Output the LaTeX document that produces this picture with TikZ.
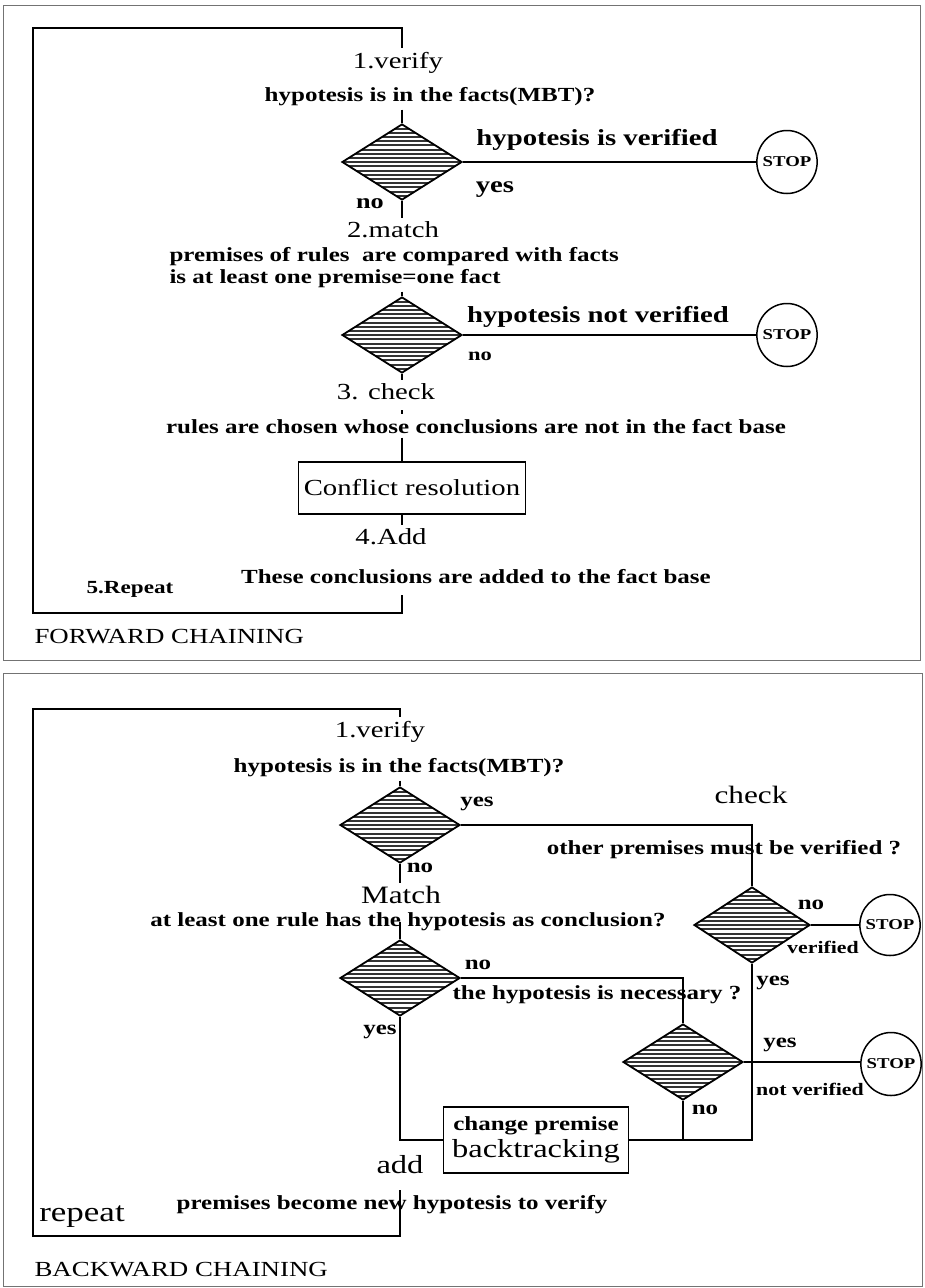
\documentclass[tikz,border=0pt]{standalone}
\usepackage{fontspec}
\setmainfont[FakeStretch=1.25]{Liberation Serif}
\usetikzlibrary{shapes.geometric}

\begin{document}
\begin{tikzpicture}[
        x=1pt, y=-1pt,
        frame/.style={draw=black!55, line width=1pt},
        flow/.style={line width=1.7pt},
        loopline/.style={line width=2.3pt},
        test/.style={draw, diamond, line width=1.8pt, minimum width=120pt, minimum height=76pt, inner sep=0pt,
            path picture={
                \foreach \k in {1,...,19}
                    \draw[black!80, line width=2pt]
                        ([yshift=-\k*4.2pt]path picture bounding box.north west) --
                        ([yshift=-\k*4.2pt]path picture bounding box.north east);
            }},
        halt/.style={draw, ellipse, line width=1.5pt, minimum width=59pt, minimum height=63pt, inner sep=-3pt,
            font=\fontsize{15}{16}\selectfont\bfseries},
        proc/.style={draw, rectangle, line width=1.7pt, align=center, inner sep=0pt},
        stage/.style={font=\fontsize{23}{25}\selectfont},
        bigstage/.style={font=\fontsize{25}{28}\selectfont},
        ask/.style={font=\fontsize{20}{22}\selectfont\bfseries},
        answer/.style={font=\fontsize{20}{22}\selectfont\bfseries, inner sep=1pt},
        result/.style={font=\fontsize{17.5}{19}\selectfont\bfseries, inner sep=1pt},
        title/.style={anchor=west, font=\fontsize{21.5}{24}\selectfont}
    ]
    \useasboundingbox (0,0) rectangle (924,1288);
    \draw[frame] (3,5) rectangle (920,660);
    \draw[frame] (3,673) rectangle (922,1286);

    % Forward chaining
    \node[stage] (fverify) at (398,63) {1.verify};
    \node[ask] (fq1) at (430,97) {hypotesis is in the facts(MBT)?};
    \node[test] (fd1) at (402,162) {};
    \node[halt] (fstop1) at (787,162) {STOP};
    \node[font=\fontsize{23}{25}\selectfont\bfseries] (fverified) at (597,140) {hypotesis is verified};
    \node[font=\fontsize{23}{25}\selectfont\bfseries] (fyes) at (495,190) {yes};
    \node[answer, font=\fontsize{21}{23}\selectfont\bfseries] (fno1) at (370,204) {no};
    \node[stage] (fmatch) at (393,230) {2.match};
    \node[ask, align=left, anchor=west] (fq2) at (166,268)
        {premises of rules\ \ are compared with facts\\is at least one premise=one fact};
    \node[test] (fd2) at (402,335) {};
    \node[halt] (fstop2) at (787,335) {STOP};
    \node[font=\fontsize{23}{25}\selectfont\bfseries] (fnotver) at (598,317) {hypotesis not verified};
    \node[answer, font=\fontsize{18}{20}\selectfont\bfseries] (fno2) at (480,356) {no};
    \node[stage] (fcheck) at (386,392) {3. check};
    \node[ask] (fq3) at (476,427) {rules are chosen whose conclusions are not in the fact base};
    \node[proc, stage, minimum width=227pt, minimum height=52pt] (fconflict) at (412,488) {Conflict resolution};
    \node[stage] (fadd) at (391,537) {4.Add};
    \node[ask] (fq4) at (476,577) {These conclusions are added to the fact base};
    \node[ask, font=\fontsize{18.5}{20}\selectfont\bfseries] (frepeat) at (130,589) {5.Repeat};
    \node[title] (ftitle) at (31,637) {FORWARD CHAINING};

    \coordinate (f-in) at (402,48);
    \coordinate (f-out) at (402,595);
    \coordinate (f-dot) at (402,410);
    \draw[loopline] (f-out) |- (33,613) -- (33,28) -| (f-in);
    \draw[flow] (fq1.south -| fd1) -- (fd1.north);
    \draw[flow] (fd1.east) -- (fstop1.west);
    \draw[flow] (fd1.south) -- (fd1.south |- fmatch.north);
    \draw[flow] (fq2.south -| fd2) -- (fd2.north);
    \draw[flow] (fd2.east) -- (fstop2.west);
    \draw[flow] (fd2.south) -- (fd2.south |- fcheck.north);
    \draw[flow] (f-dot) -- ++(0,4);
    \draw[flow] (fq3.south -| fd2) -- (fconflict.north -| fd2);
    \draw[flow] (fconflict.south -| fd2) -- (fadd.north -| fd2);

    % Backward chaining
    \node[stage] (bverify) at (380,732) {1.verify};
    \node[ask] (bq1) at (399,768) {hypotesis is in the facts(MBT)?};
    \node[test] (bd1) at (400,825) {};
    \node[bigstage] (bcheck) at (751,795) {check};
    \node[ask] (bq5) at (724,850) {other premises must be verified ?};
    \node[test, minimum width=116pt] (bd4) at (752,925) {};
    \node[halt, minimum width=57pt, minimum height=61pt] (bstop1) at (890,925) {STOP};
    \node[bigstage] (bmatch) at (401,895) {Match};
    \node[ask] (bq2) at (408,922) {at least one rule has the hypotesis as conclusion?};
    \node[test] (bd2) at (400,978) {};
    \node[ask] (bq3) at (597,995) {the hypotesis is necessary ?};
    \node[test] (bd3) at (683,1062) {};
    \node[halt] (bstop2) at (891,1064) {STOP};
    \node[proc, minimum width=185pt, minimum height=66pt] (bback) at (536,1140)
        {{\fontsize{20}{22}\selectfont\bfseries change premise}\\[3pt]{\fontsize{26}{28}\selectfont backtracking}};
    \node[font=\fontsize{26}{28}\selectfont] (badd) at (400,1165) {add};
    \node[ask] (bq4) at (392,1205) {premises become new hypotesis to verify};
    \node[font=\fontsize{28}{30}\selectfont] (brepeat) at (82,1217) {repeat};
    \node[title] (btitle) at (31,1270) {BACKWARD CHAINING};

    \foreach \name/\pos/\txt in {byes1/{477,804}/yes, bno1/{420,868}/no, bno4/{811,905}/no,
            bno2/{478,965}/no, byes4/{773,983}/yes, byes2/{380,1032}/yes,
            byes3/{780,1045}/yes, bno3/{705,1110}/no} {
        \node[answer] (\name) at (\pos) {\txt};
    }
    \node[result] (bverified) at (823,947) {verified};
    \node[result] (bnotver) at (810,1089) {not verified};

    \coordinate (b-in) at (400,717);
    \coordinate (b-out) at (400,1190);
    \draw[loopline] (b-out) |- (33,1236) -- (33,709) -| (b-in);
    \draw[flow] (bq1.south -| bd1) -- (bd1.north);
    \draw[flow] (bd1.east) -| (bd4.north);
    \draw[flow] (bd1.south) -- (bd1.south |- bmatch.north);
    \draw[flow] (bq2.center -| bd2) -- (bd2.north);
    \draw[flow] (bd2.east) -| (bd3.north);
    \draw[flow] (bd4.east) -- (bstop1.west);
    \draw[flow] (bd3.east) -- (bstop2.west |- bd3.east);
    \draw[flow] (bd4.south) |- (bback.east);
    \draw[flow] (bd3.south) -- (bd3.south |- bback.east);
    \draw[flow] (bd2.south) |- (bback.west);
\end{tikzpicture}
\end{document}
